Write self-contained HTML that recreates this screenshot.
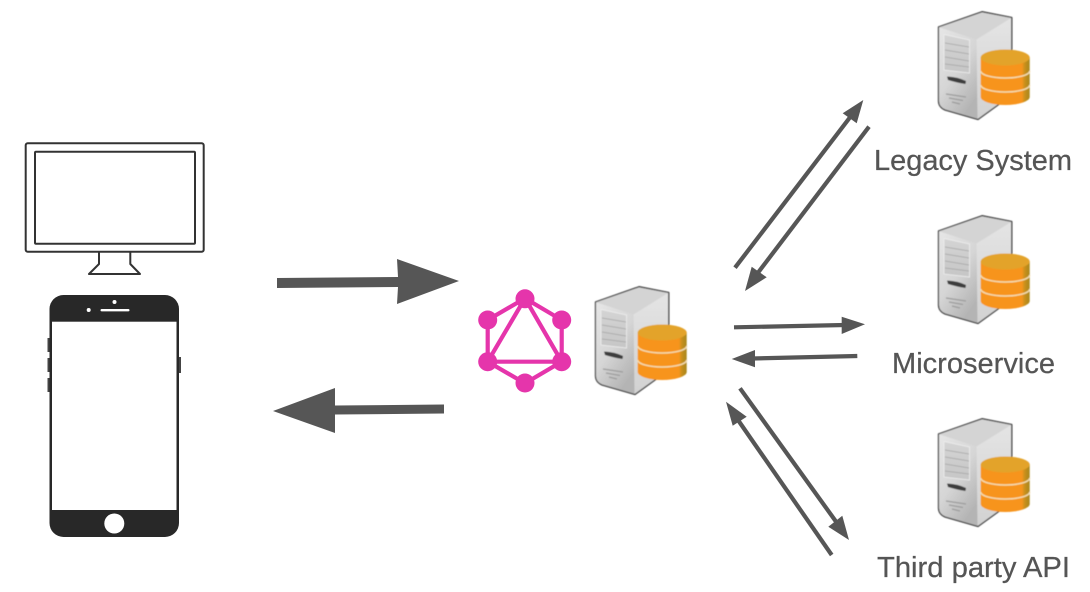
<!DOCTYPE html>
<html>
<head>
<meta charset="utf-8">
<style>
html,body{margin:0;padding:0;background:#fff;width:1090px;height:592px;overflow:hidden}
svg{display:block}
text{font-family:"Liberation Sans",sans-serif;font-size:29px;fill:#555;stroke:#555;stroke-width:.25px}
</style>
</head>
<body>
<svg width="1090" height="592" viewBox="0 0 1090 592" xmlns="http://www.w3.org/2000/svg">
<defs>
<filter id="soft" x="-5%" y="-5%" width="110%" height="110%"><feGaussianBlur stdDeviation="0.45"/></filter>
<linearGradient id="front" x1="0" y1="0" x2="0.6" y2="1"><stop offset="0" stop-color="#e6e6e6"/><stop offset=".55" stop-color="#d6d6d6"/><stop offset="1" stop-color="#b4b4b4"/></linearGradient>
<linearGradient id="side" x1="0" y1="0" x2="0" y2="1"><stop offset="0" stop-color="#e4e4e4"/><stop offset="1" stop-color="#d2d2d2"/></linearGradient>
<linearGradient id="panel" x1="0" y1="0" x2="0" y2="1"><stop offset="0" stop-color="#d4d4d4"/><stop offset="1" stop-color="#c6c6c6"/></linearGradient>
<linearGradient id="dbg" x1="0" y1="0" x2="1" y2="0"><stop offset="0" stop-color="#f7941d"/><stop offset=".84" stop-color="#f7941d"/><stop offset=".9" stop-color="#c8901e"/><stop offset="1" stop-color="#a8861e"/></linearGradient>
<g id="srv" filter="url(#soft)">
  <path d="M938.500 27 L982 11.700 L1011.800 17.500 L1011.800 95 L978 119.500 L945 110 Q938.500 107 938.500 101 Z" fill="#d8d8d8" stroke="#3c3c3c" stroke-width="1.300" stroke-linejoin="round"/>
  <path d="M939.200 27.300 L982 12.500 L1011 18 L976.500 40 Z" fill="#d4d4d4"/>
  <path d="M976.500 39.500 L1011 18 L1011 95 L977.500 118.500 Z" fill="url(#side)"/>
  <path d="M939.200 27.300 L976.500 39.500 L977.500 118.500 L945 109 Q939.200 107 939.200 101 Z" fill="url(#front)"/>
  <path d="M944 34.500 L969.500 40 L969.500 73 L944 70 Z" fill="url(#panel)" stroke="#eeeeee" stroke-width=".8"/>
  <path d="M945 43 L969 47 M945 50 L969 54 M945 57 L969 61 M945 64 L969 67" stroke="#a4a4a4" stroke-width=".8" fill="none"/>
  <path d="M947 76.500 Q958 77 966 81 L965.500 84 Q956 82.500 948 80 Z" fill="#3e3e3e"/>
  <path d="M946 94 L966 97 M949 98 L963 100.500 M952 102 L960 104" stroke="#9c9c9c" stroke-width="1.300" fill="none"/>
  <path d="M980.700 57.500 L1029.700 57.500 L1029.700 97 A24.500 8 0 0 1 980.700 97 Z" fill="url(#dbg)"/>
  <path d="M980.700 71 A24.500 7 0 0 0 1029.700 71 M980.700 85 A24.500 7 0 0 0 1029.700 85" fill="none" stroke="#f3dcae" stroke-width="1.500"/>
  <ellipse cx="1005.200" cy="57.500" rx="24.500" ry="8" fill="#e3a32a"/>
</g>
</defs>

<!-- Monitor -->
<g fill="none" stroke="#333" stroke-width="2" stroke-linejoin="round">
  <rect x="25.700" y="143.300" width="178" height="108.400" rx="2"/>
  <rect x="35" y="151.700" width="160" height="92" rx="1"/>
  <path d="M99 251.700 V264 L89 274 H140 L130.300 264 V251.700"/>
</g>

<!-- Phone -->
<rect x="47.500" y="338" width="3" height="14" fill="#444"/>
<rect x="47.500" y="358" width="3" height="14" fill="#444"/>
<rect x="47.500" y="378" width="3" height="14" fill="#444"/>
<rect x="178" y="357" width="3" height="16" fill="#444"/>
<rect x="49.500" y="295" width="129.500" height="242" rx="14" fill="#282828"/>
<rect x="52" y="321.700" width="124.500" height="188.300" fill="#fff"/>
<circle cx="114.300" cy="523.500" r="10" fill="#fff"/>
<circle cx="114.500" cy="302" r="2" fill="#fff"/>
<circle cx="88.700" cy="310" r="2" fill="#fff"/>
<rect x="100.500" y="309" width="29" height="2.400" rx="1.200" fill="#fff"/>

<!-- Big arrows -->
<g fill="#565656">
  <path d="M277 278 L398 277 L397 259 L459 281 L397 304 L398 287 L277 288 Z"/>
  <path d="M444 404.500 L335 405.500 L335 388 L273 411 L335 433 L335 414.500 L444 413.500 Z"/>
</g>

<!-- GraphQL logo -->
<g stroke="#e535ab" stroke-width="4.200" fill="none" stroke-linejoin="round">
  <path d="M525 298.300 L561.700 320 V361.700 L525 383.300 L487.700 361.700 V320 Z"/>
  <path d="M525 298.300 L561.700 361.700 H487.700 Z"/>
</g>
<g fill="#e535ab">
  <circle cx="525" cy="298.800" r="9.500"/>
  <circle cx="561.700" cy="320" r="9.500"/>
  <circle cx="561.700" cy="361.700" r="9.500"/>
  <circle cx="525" cy="383" r="9.500"/>
  <circle cx="487.700" cy="361.700" r="9.500"/>
  <circle cx="487.700" cy="320" r="9.500"/>
</g>

<!-- Servers -->
<use href="#srv"/>
<use href="#srv" y="204"/>
<use href="#srv" y="407"/>
<use href="#srv" x="-343" y="275"/>

<!-- Small arrows -->
<g stroke="#565656" stroke-width="4.200" fill="none">
  <path d="M735 267.700 L851 116"/>
  <path d="M869 126.700 L757 274"/>
  <path d="M734 327.300 L845 325"/>
  <path d="M857.300 356 L752 358.500"/>
  <path d="M740 388.300 L837 523"/>
  <path d="M831.700 555 L738 420"/>
</g>
<g fill="#565656">
  <path d="M863.300 100 L842.700 113.300 L856.700 123.300 Z"/>
  <path d="M745 291 L751.700 266.700 L766.700 277.300 Z"/>
  <path d="M865 324.300 L841.700 316.700 V334 Z"/>
  <path d="M731.700 359 L755 350 V367.300 Z"/>
  <path d="M849 540 L842.300 515.700 L828.300 526.700 Z"/>
  <path d="M726 401.700 L746.700 416.700 L732.700 425.700 Z"/>
</g>

<!-- Labels -->
<text x="874" y="170" textLength="198" lengthAdjust="spacingAndGlyphs">Legacy System</text>
<text x="892" y="373" textLength="163" lengthAdjust="spacingAndGlyphs">Microservice</text>
<text x="877" y="577" textLength="193" lengthAdjust="spacingAndGlyphs">Third party API</text>
</svg>
</body>
</html>
